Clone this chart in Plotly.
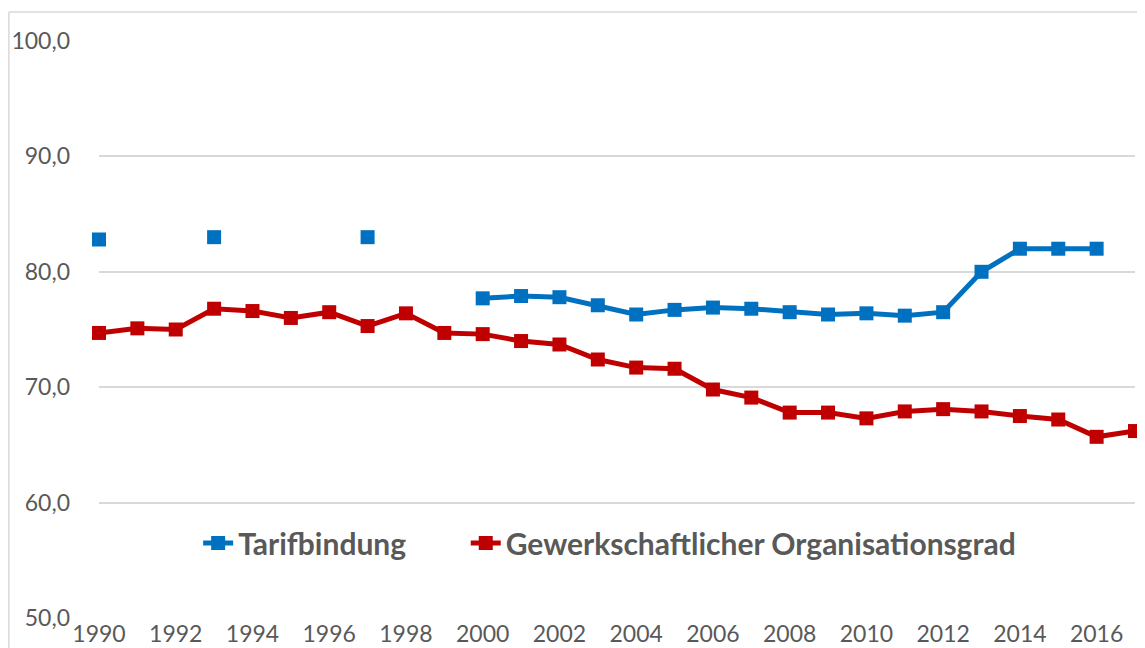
import plotly.graph_objects as go

years = list(range(1990, 2018))
tarifbindung = [82.8, None, None, 83.0, None, None, None, 83.0, None, None,
                77.7, 77.9, 77.8, 77.1, 76.3, 76.7, 76.9, 76.8, 76.5, 76.3,
                76.4, 76.2, 76.5, 80.0, 82.0, 82.0, 82.0, None]
organisationsgrad = [74.7, 75.1, 75.0, 76.8, 76.6, 76.0, 76.5, 75.3, 76.4, 74.7,
                     74.6, 74.0, 73.7, 72.4, 71.7, 71.6, 69.8, 69.1, 67.8, 67.8,
                     67.3, 67.9, 68.1, 67.9, 67.5, 67.2, 65.7, 66.2]

BLUE = "#0070C0"
RED = "#C00000"
GRAY = "#595959"
FONT = "Lato"

fig = go.Figure()
fig.add_trace(go.Scatter(
    x=years, y=tarifbindung, name="Tarifbindung", mode="lines+markers",
    line=dict(color=BLUE, width=5), marker=dict(symbol="square", size=14, color=BLUE),
    connectgaps=False, cliponaxis=False, legend="legend"))
fig.add_trace(go.Scatter(
    x=years, y=organisationsgrad, name="Gewerkschaftlicher Organisationsgrad", mode="lines+markers",
    line=dict(color=RED, width=5), marker=dict(symbol="square", size=14, color=RED),
    connectgaps=False, cliponaxis=False, legend="legend2"))

# outer chart border (light gray)
fig.add_shape(type="line", xref="paper", yref="paper", x0=-0.087, x1=1.2, y0=1.0503, y1=1.0503,
              line=dict(color="#D9D9D9", width=1.5))
fig.add_shape(type="line", xref="paper", yref="paper", x0=-0.087, x1=-0.087, y0=-0.2, y1=1.0503,
              line=dict(color="#D9D9D9", width=1.5))

legend_common = dict(orientation="h", y=0.13, xanchor="left", yanchor="middle",
                     font=dict(family=FONT, size=30, color=GRAY, weight="bold"),
                     bgcolor="rgba(0,0,0,0)", itemwidth=30)

fig.update_layout(
    width=1137, height=640,
    margin=dict(l=91, r=10, t=33, b=30, autoexpand=False),
    paper_bgcolor="white", plot_bgcolor="white",
    separators=",.",
    font=dict(family=FONT, color=GRAY, size=20),
    showlegend=True,
    legend=dict(x=0.0957, **legend_common),
    legend2=dict(x=0.354, **legend_common),
)
fig.update_xaxes(range=[1990, 2017], dtick=2, tick0=1990, showgrid=False, zeroline=False,
                 showline=False, ticks="", tickfont=dict(family=FONT, size=23, color=GRAY),
                 ticklabelstandoff=0, automargin=False)
fig.update_yaxes(range=[50, 100], dtick=10, tickformat=".1f", showgrid=True,
                 gridcolor="#D9D9D9", gridwidth=2, zeroline=False, showline=False,
                 ticks="", tickfont=dict(family=FONT, size=23, color=GRAY),
                 ticklabelstandoff=28, automargin=False)

fig.write_html("out.html")
